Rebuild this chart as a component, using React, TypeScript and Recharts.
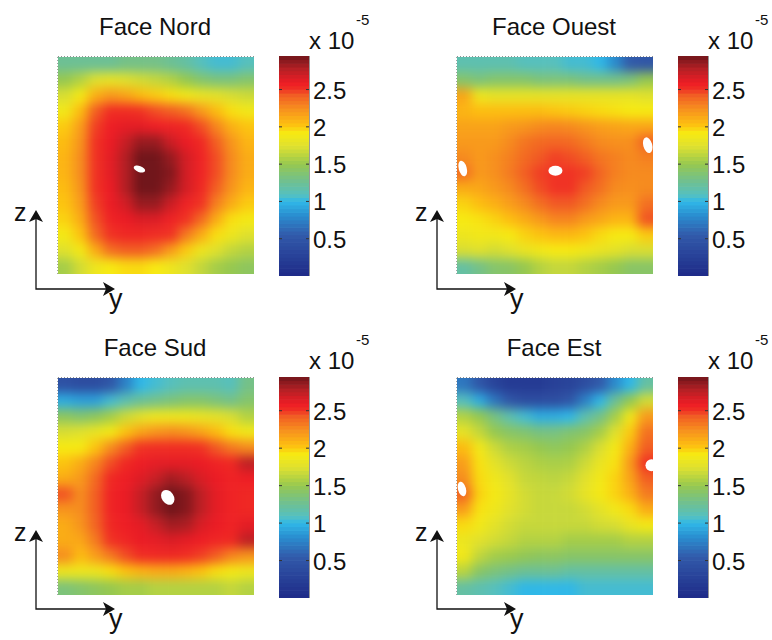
import React from "react";
import { ScatterChart, Scatter, XAxis, YAxis, ReferenceLine } from "recharts";

const faceNord = [
  [1.25,1.25,1.25,1.25,1.3,1.3,1.3,1.25,1.2,1.1,1.05,1.05,1.1],
  [1.5,1.6,1.75,1.8,1.75,1.7,1.65,1.6,1.5,1.4,1.35,1.35,1.4],
  [1.72,1.9,2.1,2.2,2.15,2.05,2.0,1.95,1.88,1.82,1.78,1.72,1.68],
  [1.88,2.05,2.42,2.52,2.52,2.5,2.46,2.42,2.35,2.2,2.05,1.95,1.88],
  [2.0,2.18,2.48,2.58,2.62,2.62,2.58,2.56,2.54,2.46,2.28,2.1,2.02],
  [2.05,2.22,2.5,2.6,2.72,2.85,2.85,2.7,2.6,2.54,2.42,2.22,2.08],
  [2.08,2.25,2.5,2.62,2.78,2.95,2.95,2.85,2.68,2.56,2.46,2.26,2.12],
  [2.08,2.25,2.5,2.62,2.78,2.95,2.95,2.9,2.68,2.56,2.46,2.26,2.12],
  [2.05,2.22,2.5,2.6,2.78,2.95,2.95,2.85,2.68,2.54,2.42,2.22,2.08],
  [2.02,2.18,2.48,2.6,2.68,2.85,2.85,2.7,2.56,2.5,2.3,2.12,2.0],
  [1.98,2.12,2.45,2.56,2.6,2.65,2.65,2.56,2.5,2.38,2.12,1.95,1.9],
  [1.9,2.02,2.38,2.5,2.54,2.54,2.52,2.5,2.32,2.12,1.95,1.85,1.75],
  [1.75,1.9,2.12,2.36,2.42,2.42,2.36,2.18,2.0,1.85,1.75,1.65,1.6],
  [1.55,1.7,1.85,1.92,1.96,1.96,1.92,1.85,1.75,1.65,1.55,1.5,1.45],
];
const faceOuest = [
  [1.15,1.15,1.15,1.15,1.1,1.1,1.1,1.05,1.05,1.0,0.8,0.55,0.5],
  [1.4,1.35,1.4,1.4,1.4,1.35,1.35,1.35,1.3,1.3,1.3,1.35,1.5],
  [2.15,1.85,1.8,1.8,1.8,1.8,1.8,1.8,1.8,1.8,1.8,1.8,1.75],
  [2.08,2.04,2.04,2.04,2.04,2.04,2.02,2.0,1.98,1.96,1.94,1.92,1.92],
  [2.16,2.16,2.16,2.2,2.22,2.26,2.28,2.26,2.22,2.18,2.16,2.14,2.14],
  [2.2,2.2,2.2,2.26,2.34,2.38,2.4,2.38,2.32,2.26,2.24,2.24,2.4],
  [2.26,2.2,2.24,2.3,2.38,2.44,2.48,2.46,2.42,2.34,2.3,2.26,2.3],
  [2.36,2.2,2.24,2.32,2.42,2.48,2.5,2.5,2.48,2.4,2.3,2.26,2.26],
  [2.12,2.14,2.2,2.26,2.36,2.46,2.5,2.5,2.44,2.36,2.26,2.24,2.26],
  [1.98,2.04,2.1,2.18,2.26,2.36,2.44,2.44,2.36,2.26,2.2,2.2,2.36],
  [1.92,1.94,1.98,2.04,2.12,2.2,2.28,2.28,2.2,2.14,2.08,2.08,2.45],
  [1.85,1.88,1.88,1.92,1.98,2.02,2.06,2.06,2.02,1.96,1.92,1.92,2.0],
  [1.72,1.75,1.7,1.75,1.82,1.88,1.92,1.92,1.88,1.82,1.78,1.72,1.72],
  [1.2,1.3,1.4,1.42,1.5,1.6,1.65,1.65,1.6,1.55,1.5,1.42,1.42],
];
const faceSud = [
  [0.45,0.4,0.4,0.5,0.75,1.0,1.05,1.1,1.15,1.15,1.15,1.1,1.3],
  [0.95,0.9,0.9,1.05,1.15,1.25,1.3,1.35,1.4,1.4,1.35,1.3,1.4],
  [1.45,1.4,1.45,1.55,1.68,1.78,1.85,1.85,1.85,1.82,1.78,1.72,1.6],
  [1.72,1.75,1.82,1.9,2.02,2.15,2.22,2.25,2.22,2.15,2.05,1.95,1.88],
  [1.92,1.92,2.02,2.25,2.42,2.5,2.52,2.52,2.52,2.5,2.44,2.32,2.25],
  [2.02,2.12,2.28,2.46,2.54,2.58,2.62,2.62,2.62,2.6,2.56,2.54,2.75],
  [2.12,2.2,2.38,2.54,2.58,2.64,2.72,2.82,2.76,2.66,2.6,2.56,2.58],
  [2.45,2.25,2.42,2.56,2.6,2.72,2.86,2.95,2.9,2.75,2.62,2.56,2.54],
  [2.22,2.25,2.42,2.56,2.6,2.72,2.86,2.95,2.9,2.75,2.62,2.56,2.54],
  [2.12,2.22,2.4,2.54,2.58,2.62,2.72,2.82,2.8,2.66,2.6,2.56,2.62],
  [2.12,2.14,2.32,2.5,2.55,2.6,2.62,2.65,2.62,2.58,2.55,2.54,2.75],
  [2.25,2.05,2.18,2.32,2.46,2.52,2.54,2.54,2.52,2.48,2.42,2.28,2.22],
  [1.85,1.85,1.85,1.95,2.02,2.08,2.12,2.12,2.08,2.02,1.95,1.9,1.85],
  [1.35,1.4,1.45,1.5,1.55,1.55,1.6,1.6,1.6,1.6,1.6,1.65,1.6],
];
const faceEst = [
  [0.7,0.5,0.3,0.2,0.2,0.2,0.25,0.3,0.4,0.55,0.8,1.0,1.2],
  [1.1,0.95,0.7,0.5,0.4,0.4,0.4,0.5,0.75,1.0,1.25,1.5,1.7],
  [1.6,1.5,1.32,1.15,1.05,0.95,0.95,1.0,1.15,1.3,1.55,1.88,2.2],
  [1.8,1.65,1.5,1.42,1.38,1.32,1.32,1.38,1.42,1.55,1.75,2.0,2.35],
  [2.05,1.88,1.68,1.58,1.55,1.5,1.46,1.5,1.58,1.72,1.9,2.1,2.42],
  [2.18,1.94,1.78,1.68,1.62,1.58,1.56,1.58,1.68,1.82,1.94,2.2,2.5],
  [2.25,1.96,1.86,1.76,1.66,1.64,1.62,1.66,1.76,1.88,1.98,2.16,2.42],
  [2.4,1.98,1.9,1.8,1.7,1.66,1.66,1.7,1.8,1.9,1.98,2.1,2.32],
  [2.18,1.94,1.86,1.76,1.7,1.66,1.66,1.66,1.7,1.78,1.88,1.96,2.12],
  [1.96,1.88,1.78,1.7,1.66,1.66,1.66,1.66,1.66,1.7,1.72,1.82,1.9],
  [1.84,1.76,1.7,1.65,1.6,1.6,1.6,1.55,1.55,1.55,1.55,1.6,1.6],
  [1.88,1.64,1.55,1.52,1.48,1.45,1.45,1.42,1.42,1.42,1.42,1.42,1.42],
  [1.62,1.42,1.35,1.3,1.25,1.25,1.25,1.2,1.2,1.2,1.2,1.2,1.2],
  [1.2,1.15,1.1,1.05,1.0,1.0,1.0,1.0,1.05,1.05,1.05,1.05,1.05],
];

// Saturated spots, read as [column, row] inside each face.
const spotsNord = [[5.4, 7.23]];
const spotsOuest = [[6.53, 7.34], [0.38, 7.19], [12.65, 5.69]];
const spotsSud = [[7.28, 7.7]];
const spotsEst = [[0.33, 7.16], [12.9, 5.63]];

const barValues = [
  0.025,0.075,0.125,0.175,0.225,0.275,0.325,0.375,0.425,0.475,0.525,0.575,0.625,0.675,0.725,
  0.775,0.825,0.875,0.925,0.975,1.025,1.075,1.125,1.175,1.225,1.275,1.325,1.375,1.425,1.475,
  1.525,1.575,1.625,1.675,1.725,1.775,1.825,1.875,1.925,1.975,2.025,2.075,2.125,2.175,2.225,
  2.275,2.325,2.375,2.425,2.475,2.525,2.575,2.625,2.675,2.725,2.775,2.825,2.875,2.925,
];
const barTicks = [0.5, 1, 1.5, 2, 2.5];
const colorStops: [number, number[]][] = [
  [0, [30, 42, 135]],
  [0.55, [50, 90, 170]],
  [0.82, [42, 143, 208]],
  [1.0, [48, 184, 232]],
  [1.09, [85, 192, 192]],
  [1.27, [112, 192, 144]],
  [1.5, [150, 200, 80]],
  [1.74, [223, 224, 48]],
  [1.92, [247, 234, 18]],
  [2.03, [253, 192, 16]],
  [2.23, [247, 147, 30]],
  [2.44, [241, 90, 36]],
  [2.5, [240, 50, 36]],
  [2.59, [238, 28, 37]],
  [2.77, [184, 32, 37]],
  [2.95, [112, 21, 26]],
];
const colorOf = (v: number) => {
  for (let i = 1; i < colorStops.length; i++) {
    const [b, cb] = colorStops[i];
    const [a, ca] = colorStops[i - 1];
    if (v <= b) {
      const t = (v - a) / (b - a);
      return `rgb(${ca.map((c, k) => Math.round(c + (cb[k] - c) * t)).join(",")})`;
    }
  }
  return "rgb(112,21,26)";
};

const COLS = 13;
const ROWS = 14;
const W = 196;
const H = 217;
const FONT = '"Liberation Sans", Arial, sans-serif';

const cellsOf = (grid: number[][]) =>
  grid.flatMap((r, row) => r.map((v, col) => ({ col: col + 0.5, row: row + 0.5, v, ci: col, ri: row })));

const HeatCell = (p: any) => {
  const cw = W / COLS;
  const ch = H / ROWS;
  const { ci, ri, v } = p.payload;
  const grow = 24;
  const x0 = p.cx - cw / 2 - (ci === 0 ? grow : 0) - 0.3;
  const x1 = p.cx + cw / 2 + (ci === COLS - 1 ? grow : 0) + 0.3;
  const y0 = p.cy - ch / 2 - (ri === 0 ? grow : 0) - 0.3;
  const y1 = p.cy + ch / 2 + (ri === ROWS - 1 ? grow : 0) + 0.3;
  return <rect x={x0} y={y0} width={x1 - x0} height={y1 - y0} fill={colorOf(v)} />;
};

const Spot = (p: any) => (
  <ellipse
    cx={p.cx}
    cy={p.cy}
    rx={p.payload.rx}
    ry={p.payload.ry}
    fill="#fff"
    transform={`rotate(${p.payload.tilt} ${p.cx} ${p.cy})`}
  />
);

const BarCell = (p: any) => (
  <rect x={p.cx - 15} y={p.cy - 2.2} width={30} height={4.4} fill={colorOf(p.payload.v)} />
);

const BarTick = (p: any) => {
  const ax = p.x - 8;
  return (
    <g>
      <line x1={ax - 3} x2={ax} y1={p.y} y2={p.y} stroke="#333" strokeWidth={1} />
      <line x1={ax - 30} x2={ax - 27} y1={p.y} y2={p.y} stroke="#333" strokeWidth={1} />
      <text x={ax + 4} y={p.y + 9} fontSize={24} fontFamily={FONT} fill="#111">
        {p.payload.value}
      </text>
    </g>
  );
};

const ColorBar = ({ left, top, height }: { left: number; top: number; height: number }) => (
  <div style={{ position: "absolute", left, top }}>
    <ScatterChart width={90} height={height} margin={{ top: 0, right: 0, bottom: 0, left: 0 }}>
      <XAxis type="number" dataKey="x" domain={[0, 1]} hide />
      <YAxis
        type="number"
        dataKey="v"
        domain={[0, 2.95]}
        orientation="right"
        width={60}
        ticks={barTicks}
        tick={<BarTick />}
        tickLine={false}
        axisLine={{ stroke: "#333" }}
        interval={0}
      />
      <Scatter data={barValues.map((v) => ({ x: 0.5, v }))} shape={<BarCell />} isAnimationActive={false} />
      <ReferenceLine x={0} stroke="#555" strokeWidth={1} />
    </ScatterChart>
  </div>
);

type PanelProps = {
  id: string;
  title: string;
  titleX: number;
  left: number;
  top: number;
  plotLeft: number;
  plotTop: number;
  grid: number[][];
  spots: number[][];
  spotSizes: number[][];
  arrowShift: number;
};

const Panel = ({ id, title, titleX, left, top, plotLeft, plotTop, grid, spots, spotSizes, arrowShift }: PanelProps) => {
  const ax = 36 + arrowShift;
  const ay = 289;
  return (
    <div className={id} style={{ position: "absolute", left, top }}>
      <ScatterChart
        width={386}
        height={320}
        margin={{ top: plotTop, left: plotLeft, right: 386 - plotLeft - W, bottom: 320 - plotTop - H }}
      >
        <defs>
          <clipPath id={`clip-${id}`}>
            <rect x={plotLeft} y={plotTop} width={W} height={H} />
          </clipPath>
        </defs>
        <XAxis type="number" dataKey="col" domain={[0, COLS]} hide />
        <YAxis type="number" dataKey="row" domain={[0, ROWS]} reversed hide />
        <Scatter className="heat" data={cellsOf(grid)} shape={<HeatCell />} isAnimationActive={false} />
        <Scatter
          data={spots.map(([col, row], i) => ({
            col,
            row,
            rx: spotSizes[i][0],
            ry: spotSizes[i][1],
            tilt: spotSizes[i][2],
          }))}
          shape={<Spot />}
          isAnimationActive={false}
        />
        <ReferenceLine y={0} stroke="#222" strokeDasharray="1 2" strokeWidth={1} />
        <ReferenceLine x={0} stroke="#444" strokeDasharray="1 2" strokeWidth={1} />
        <text x={titleX} y={plotTop - 22} textAnchor="middle" fontSize={24} fontFamily={FONT} fill="#111">
          {title}
        </text>
        <text x={plotLeft + 251} y={49} fontSize={24} fontFamily={FONT} fill="#111">
          x 10
        </text>
        <text x={plotLeft + 298} y={25} fontSize={15} fontFamily={FONT} fill="#111">
          -5
        </text>
        <text x={ax - 22} y={221} fontSize={25} fontFamily={FONT} fill="#111">
          z
        </text>
        <text x={ax + 73} y={308} fontSize={27} fontFamily={FONT} fill="#111">
          y
        </text>
        <path d={`M${ax} 218 L${ax} ${ay} L${ax + 70} ${ay}`} fill="none" stroke="#111" strokeWidth={1.3} />
        <path d={`M${ax} 210 L${ax + 7} 222 L${ax} 219 L${ax - 7} 222 Z`} fill="#111" />
        <path d={`M${ax + 79} ${ay} L${ax + 67} ${ay - 7} L${ax + 70} ${ay} L${ax + 67} ${ay + 7} Z`} fill="#111" />
      </ScatterChart>
    </div>
  );
};

export default function App() {
  return (
    <div style={{ position: "absolute", left: 0, top: 0, width: 772, height: 640, background: "#fff", overflow: "hidden" }}>
      <style>{`
        .heat { filter: blur(5.5px); }
        .p1 .heat { clip-path: url(#clip-p1); }
        .p2 .heat { clip-path: url(#clip-p2); }
        .p3 .heat { clip-path: url(#clip-p3); }
        .p4 .heat { clip-path: url(#clip-p4); }
      `}</style>
      <Panel id="p1" title="Face Nord" titleX={155} left={0} top={0} plotLeft={58} plotTop={57} grid={faceNord} spots={spotsNord} spotSizes={[[6, 3, 20]]} arrowShift={0} />
      <Panel id="p2" title="Face Ouest" titleX={168} left={386} top={0} plotLeft={71} plotTop={57} grid={faceOuest} spots={spotsOuest} spotSizes={[[7, 5, 0], [4, 8, -15], [4.5, 8, -15]]} arrowShift={15} />
      <Panel id="p3" title="Face Sud" titleX={155} left={0} top={320} plotLeft={58} plotTop={58} grid={faceSud} spots={spotsSud} spotSizes={[[6, 8, -35]]} arrowShift={0} />
      <Panel id="p4" title="Face Est" titleX={168} left={386} top={320} plotLeft={71} plotTop={58} grid={faceEst} spots={spotsEst} spotSizes={[[4, 7.5, -15], [6, 6, 0]]} arrowShift={15} />
      <ColorBar left={279} top={56} height={220} />
      <ColorBar left={678} top={56} height={220} />
      <ColorBar left={279} top={377} height={221} />
      <ColorBar left={678} top={377} height={221} />
    </div>
  );
}
